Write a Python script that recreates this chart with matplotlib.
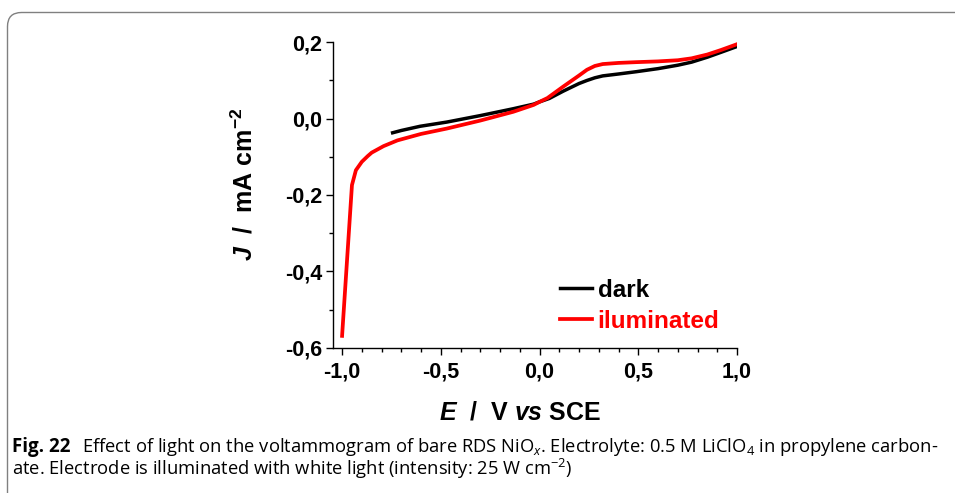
import matplotlib.pyplot as plt
from matplotlib.patches import FancyBboxPatch
from matplotlib.ticker import FuncFormatter, MultipleLocator

plt.rcParams['font.family'] = ['Liberation Sans', 'DejaVu Sans']
plt.rcParams['mathtext.fontset'] = 'custom'
plt.rcParams['mathtext.rm'] = 'Open Sans'
plt.rcParams['mathtext.it'] = 'Open Sans:italic'
plt.rcParams['mathtext.bf'] = 'Liberation Sans:bold'
plt.rcParams['mathtext.bfit'] = 'Liberation Sans:italic:bold'

# illuminated electrode (red)
E_light = [-1.0, -0.95, -0.93, -0.90, -0.87, -0.85, -0.79, -0.72, -0.60, -0.47,
           -0.30, -0.133, -0.03, 0.0, 0.04, 0.12, 0.20, 0.24, 0.28, 0.32,
           0.40, 0.49, 0.60, 0.70, 0.77, 0.85, 0.92, 1.0]
J_light = [-0.569, -0.174, -0.135, -0.113, -0.098, -0.089, -0.072, -0.057, -0.040, -0.026,
           -0.005, 0.018, 0.036, 0.044, 0.054, 0.084, 0.113, 0.128, 0.138, 0.143,
           0.146, 0.148, 0.150, 0.153, 0.158, 0.168, 0.180, 0.195]

# dark electrode (black)
E_dark = [-0.744, -0.70, -0.605, -0.47, -0.30, -0.133, -0.03, 0.0, 0.05, 0.12,
          0.20, 0.24, 0.28, 0.32, 0.40, 0.49, 0.60, 0.70, 0.77, 0.85, 0.92, 1.0]
J_dark = [-0.037, -0.031, -0.020, -0.009, 0.008, 0.026, 0.038, 0.044, 0.053, 0.072,
          0.092, 0.100, 0.107, 0.112, 0.117, 0.123, 0.131, 0.140, 0.148, 0.161, 0.174, 0.189]

x_ticks = [-1.0, -0.5, 0.0, 0.5, 1.0]
y_ticks = [-0.6, -0.4, -0.2, 0.0, 0.2]

fig = plt.figure(figsize=(9.55, 4.93), dpi=100)

# rounded frame around the figure + caption (pixel coords)
frame = FancyBboxPatch((7.5, -200), 1200, 200 + 493 - 12.5,
                       boxstyle="round,pad=0,rounding_size=14",
                       transform=None, fc='none', ec='#808080', lw=1.0,
                       zorder=-10)
fig.patches.append(frame)

ax = fig.add_axes([333 / 955, 145.3 / 493, 404 / 955, 305.4 / 493])
ax.patch.set_alpha(0)
ax.plot(E_dark, J_dark, color='black', lw=2.5, label='dark')
ax.plot(E_light, J_light, color='#ff0000', lw=2.7, label='iluminated')

ax.set_xlim(-1.046, 1.0)
ax.set_ylim(-0.6, 0.2)
ax.set_xticks(x_ticks)
ax.set_yticks(y_ticks)
ax.xaxis.set_minor_locator(MultipleLocator(0.1))
ax.yaxis.set_minor_locator(MultipleLocator(0.1))
comma = FuncFormatter(lambda v, p: f"{v:.1f}".replace('.', ','))
ax.xaxis.set_major_formatter(comma)
ax.yaxis.set_major_formatter(comma)
ax.tick_params(which='major', direction='out', length=5, width=1, labelsize=15.5)
ax.tick_params(which='minor', direction='out', length=3, width=1)
ax.tick_params(axis='x', which='major', pad=5)
ax.tick_params(axis='y', which='major', pad=3)
for lbl in ax.get_xticklabels() + ax.get_yticklabels():
    lbl.set_fontweight('bold')
ax.spines['top'].set_visible(False)
ax.spines['right'].set_visible(False)
for s in ['left', 'bottom']:
    ax.spines[s].set_linewidth(1.0)

ax.set_xlabel(r"$\mathbfit{E}$  /  V $\mathbfit{vs}$ SCE", fontsize=18, fontweight='bold')
ax.set_ylabel(r"$\mathbfit{J}$  /  mA cm$^{\mathbf{-2}}$", fontsize=18, fontweight='bold')
ax.xaxis.set_label_coords(0.463, -0.174)
ax.yaxis.set_label_coords(-0.188, 0.536)

leg = ax.legend(loc='upper left', bbox_to_anchor=(0.538, 0.258), frameon=False,
                handlelength=1.3, handletextpad=0.25, labelspacing=0.33,
                prop={'size': 17.5, 'weight': 'bold'}, labelcolor='linecolor',
                borderaxespad=0)

# caption
fig.text(12 / 955, 1 - 452 / 493, "Fig. 22", fontsize=13.5, fontweight='bold',
         family='Open Sans', va='baseline')
fig.text(82 / 955, 1 - 452 / 493,
         r"Effect of light on the voltammogram of bare RDS NiO$_{\it{x}}$. Electrolyte: 0.5 M LiClO$_4$ in propylene carbon-",
         fontsize=13.2, family='Open Sans', va='baseline')
fig.text(12 / 955, 1 - 475 / 493,
         r"ate. Electrode is illuminated with white light (intensity: 25 W cm$^{-2}$)",
         fontsize=13.2, family='Open Sans', va='baseline')

fig.savefig('out.png', dpi=100)
